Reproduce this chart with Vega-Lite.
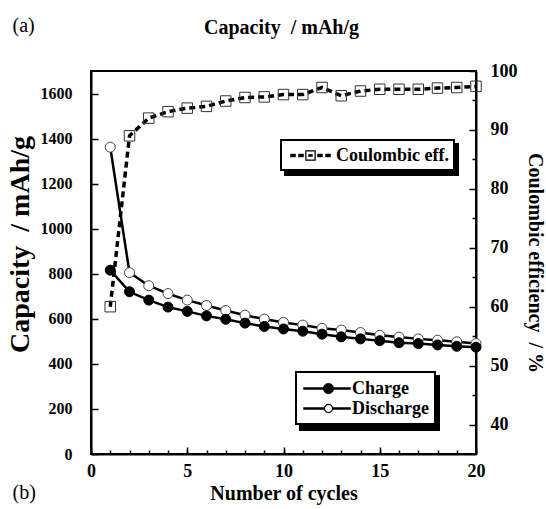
{
  "$schema": "https://vega.github.io/schema/vega-lite/v6.json",
  "width": 385,
  "height": 383,
  "autosize": {"type": "none"},
  "padding": {"left": 91, "top": 71, "right": 70, "bottom": 55},
  "background": "white",
  "config": {
    "font": "Liberation Serif",
    "view": {"stroke": "black", "strokeWidth": 2},
    "axis": {
      "grid": false,
      "domainColor": "black",
      "domainWidth": 2,
      "tickColor": "black",
      "tickWidth": 1.5,
      "labelColor": "black",
      "titleColor": "black",
      "labelFont": "Liberation Serif",
      "titleFont": "Liberation Serif",
      "labelFontWeight": "bold",
      "titleFontWeight": "bold",
      "labelFlush": false,
      "labelOverlap": false
    },
    "legend": {
      "labelFont": "Liberation Serif",
      "labelFontWeight": "bold",
      "labelFontSize": 18,
      "labelColor": "black",
      "labelLimit": 300,
      "symbolSize": 400,
      "rowPadding": -4,
      "strokeWidth": 2,
      "orient": "none"
    }
  },
  "title": {
    "text": "Capacity\u00a0 / mAh/g",
    "font": "Liberation Serif",
    "fontSize": 20,
    "fontWeight": "bold",
    "color": "black",
    "anchor": "middle",
    "frame": "group",
    "offset": 0,
    "dx": -2,
    "dy": 23
  },
  "datasets": {
    "capacity": [
      {"cycle": 1, "series": "Discharge", "capacity": 1362},
      {"cycle": 2, "series": "Discharge", "capacity": 805},
      {"cycle": 3, "series": "Discharge", "capacity": 747},
      {"cycle": 4, "series": "Discharge", "capacity": 712},
      {"cycle": 5, "series": "Discharge", "capacity": 683},
      {"cycle": 6, "series": "Discharge", "capacity": 659},
      {"cycle": 7, "series": "Discharge", "capacity": 637},
      {"cycle": 8, "series": "Discharge", "capacity": 616},
      {"cycle": 9, "series": "Discharge", "capacity": 599},
      {"cycle": 10, "series": "Discharge", "capacity": 584},
      {"cycle": 11, "series": "Discharge", "capacity": 572},
      {"cycle": 12, "series": "Discharge", "capacity": 558},
      {"cycle": 13, "series": "Discharge", "capacity": 550},
      {"cycle": 14, "series": "Discharge", "capacity": 539},
      {"cycle": 15, "series": "Discharge", "capacity": 527},
      {"cycle": 16, "series": "Discharge", "capacity": 519},
      {"cycle": 17, "series": "Discharge", "capacity": 511},
      {"cycle": 18, "series": "Discharge", "capacity": 505},
      {"cycle": 19, "series": "Discharge", "capacity": 498},
      {"cycle": 20, "series": "Discharge", "capacity": 490},
      {"cycle": 1, "series": "Charge", "capacity": 816},
      {"cycle": 2, "series": "Charge", "capacity": 720},
      {"cycle": 3, "series": "Charge", "capacity": 683},
      {"cycle": 4, "series": "Charge", "capacity": 652},
      {"cycle": 5, "series": "Charge", "capacity": 633},
      {"cycle": 6, "series": "Charge", "capacity": 613},
      {"cycle": 7, "series": "Charge", "capacity": 598},
      {"cycle": 8, "series": "Charge", "capacity": 581},
      {"cycle": 9, "series": "Charge", "capacity": 566},
      {"cycle": 10, "series": "Charge", "capacity": 555},
      {"cycle": 11, "series": "Charge", "capacity": 545},
      {"cycle": 12, "series": "Charge", "capacity": 532},
      {"cycle": 13, "series": "Charge", "capacity": 520},
      {"cycle": 14, "series": "Charge", "capacity": 511},
      {"cycle": 15, "series": "Charge", "capacity": 503},
      {"cycle": 16, "series": "Charge", "capacity": 494},
      {"cycle": 17, "series": "Charge", "capacity": 490},
      {"cycle": 18, "series": "Charge", "capacity": 484},
      {"cycle": 19, "series": "Charge", "capacity": 478},
      {"cycle": 20, "series": "Charge", "capacity": 474}
    ],
    "efficiency": [
      {"cycle": 1, "measure": "Coulombic eff.", "ce": 60.0},
      {"cycle": 2, "measure": "Coulombic eff.", "ce": 89.0},
      {"cycle": 3, "measure": "Coulombic eff.", "ce": 92.0},
      {"cycle": 4, "measure": "Coulombic eff.", "ce": 93.1},
      {"cycle": 5, "measure": "Coulombic eff.", "ce": 93.7},
      {"cycle": 6, "measure": "Coulombic eff.", "ce": 94.0},
      {"cycle": 7, "measure": "Coulombic eff.", "ce": 94.9},
      {"cycle": 8, "measure": "Coulombic eff.", "ce": 95.5},
      {"cycle": 9, "measure": "Coulombic eff.", "ce": 95.6},
      {"cycle": 10, "measure": "Coulombic eff.", "ce": 96.0},
      {"cycle": 11, "measure": "Coulombic eff.", "ce": 96.0},
      {"cycle": 12, "measure": "Coulombic eff.", "ce": 97.2},
      {"cycle": 13, "measure": "Coulombic eff.", "ce": 95.8},
      {"cycle": 14, "measure": "Coulombic eff.", "ce": 96.6},
      {"cycle": 15, "measure": "Coulombic eff.", "ce": 96.9},
      {"cycle": 16, "measure": "Coulombic eff.", "ce": 96.9},
      {"cycle": 17, "measure": "Coulombic eff.", "ce": 96.9},
      {"cycle": 18, "measure": "Coulombic eff.", "ce": 97.1},
      {"cycle": 19, "measure": "Coulombic eff.", "ce": 97.2},
      {"cycle": 20, "measure": "Coulombic eff.", "ce": 97.4}
    ]
  },
  "layer": [
    {
      "data": {"name": "capacity"},
      "mark": {"type": "line", "strokeWidth": 2.5, "color": "black"},
      "encoding": {
        "x": {
          "field": "cycle", "type": "quantitative",
          "scale": {"domain": [0, 20], "nice": false},
          "axis": {
            "orient": "bottom",
            "values": [0, 5, 10, 15, 20],
            "format": "d",
            "tickSize": -7,
            "labelFontSize": 18,
            "labelPadding": 15,
            "title": "Number of cycles",
            "titleFontSize": 20,
            "titleX": 192.5,
            "titleY": 45,
            "titleAngle": 0,
            "titleAlign": "center",
            "titleBaseline": "alphabetic"
          }
        },
        "y": {
          "field": "capacity", "type": "quantitative",
          "scale": {"domain": [0, 1700], "nice": false, "zero": false},
          "axis": {
            "orient": "left",
            "values": [0, 200, 400, 600, 800, 1000, 1200, 1400, 1600],
            "format": "d",
            "tickSize": -7,
            "labelFontSize": 16,
            "labelPadding": 26,
            "title": "Capacity\u00a0 / mAh/g",
            "titleFontSize": 28,
            "titleX": -71,
            "titleY": 173,
            "titleAngle": -90,
            "titleAlign": "center",
            "titleBaseline": "middle"
          }
        },
        "detail": {"field": "series", "type": "nominal"}
      }
    },
    {
      "data": {"name": "capacity"},
      "mark": {"type": "point", "shape": "circle", "size": 100, "strokeWidth": 1, "filled": true, "opacity": 1},
      "encoding": {
        "x": {
          "field": "cycle", "type": "quantitative",
          "scale": {"domain": [0, 20], "nice": false},
          "axis": {
            "orient": "bottom",
            "domain": false,
            "ticks": false,
            "labels": false,
            "title": "(b)",
            "titleFontSize": 20,
            "titleFontWeight": "normal",
            "titleX": -79,
            "titleY": 44,
            "titleAngle": 0,
            "titleAlign": "left",
            "titleBaseline": "alphabetic"
          }
        },
        "y": {
          "field": "capacity", "type": "quantitative",
          "scale": {"domain": [0, 1700], "nice": false, "zero": false},
          "axis": null
        },
        "fill": {
          "field": "series", "type": "nominal",
          "scale": {"domain": ["Charge", "Discharge"], "range": ["black", "white"]},
          "legend": null
        },
        "stroke": {
          "field": "series", "type": "nominal",
          "scale": {"domain": ["Charge", "Discharge"], "range": ["black", "#444444"]},
          "legend": null
        }
      }
    },
    {
      "data": {"name": "efficiency"},
      "mark": {"type": "line", "strokeWidth": 3.5, "strokeDash": [6, 4], "color": "black"},
      "encoding": {
        "x": {
          "field": "cycle", "type": "quantitative",
          "scale": {"domain": [0, 20], "nice": false},
          "axis": {
            "orient": "top",
            "domain": false,
            "ticks": false,
            "labels": false,
            "title": "(a)",
            "titleFontSize": 20,
            "titleFontWeight": "normal",
            "titleX": -79,
            "titleY": -40,
            "titleAngle": 0,
            "titleAlign": "left",
            "titleBaseline": "alphabetic"
          }
        },
        "y": {
          "field": "ce", "type": "quantitative",
          "scale": {"domain": [35, 100], "nice": false, "zero": false},
          "axis": {
            "orient": "right",
            "values": [40, 50, 60, 70, 80, 90, 100],
            "tickSize": -7,
            "labelFontSize": 18,
            "labelPadding": 21,
            "title": "Coulombic efficiency\u00a0 / %",
            "titleFontSize": 20,
            "titleX": 58,
            "titleY": 191.5,
            "titleAngle": 90,
            "titleAlign": "center",
            "titleBaseline": "middle"
          }
        }
      }
    },
    {
      "data": {"name": "efficiency"},
      "mark": {"type": "point", "shape": "square", "size": 110, "strokeWidth": 1, "filled": false, "opacity": 1, "stroke": "#333333"},
      "encoding": {
        "x": {
          "field": "cycle", "type": "quantitative",
          "scale": {"domain": [0, 20], "nice": false},
          "axis": {
            "orient": "bottom",
            "values": [0, 1, 2, 3, 4, 5, 6, 7, 8, 9, 10, 11, 12, 13, 14, 15, 16, 17, 18, 19, 20],
            "domain": false,
            "labels": false,
            "tickSize": -4,
            "title": null
          }
        },
        "y": {
          "field": "ce", "type": "quantitative",
          "scale": {"domain": [35, 100], "nice": false, "zero": false},
          "axis": {
            "orient": "right",
            "values": [45, 55, 65, 75, 85, 95],
            "domain": false,
            "labels": false,
            "tickSize": -4,
            "title": null
          }
        }
      }
    },
    {
      "description": "Legend carrier for the capacity series (points drawn fully transparent).",
      "data": {"name": "capacity"},
      "mark": {"type": "point", "filled": true, "color": "black", "opacity": 0, "strokeWidth": 0, "size": 400},
      "encoding": {
        "x": {"field": "cycle", "type": "quantitative", "scale": {"domain": [0, 20], "nice": false}, "axis": null},
        "y": {"field": "capacity", "type": "quantitative", "scale": {"domain": [0, 1700], "nice": false, "zero": false}, "axis": null},
        "shape": {
          "field": "series", "type": "nominal",
          "scale": {
            "domain": ["Charge", "Discharge"],
            "range": [
              "M-1,-0.1H0.99V0.1H-1ZM2.01,-0.1H3.7V0.1H2.01ZM0.97,0A0.53,0.53 0 1,1 2.03,0A0.53,0.53 0 1,1 0.97,0Z",
              "M-1,-0.1H1.07V0.1H-1ZM1.93,-0.1H3.7V0.1H1.93ZM1.06,0A0.44,0.44 0 1,1 1.94,0A0.44,0.44 0 1,1 1.06,0ZM1.13,0A0.37,0.37 0 1,0 1.87,0A0.37,0.37 0 1,0 1.13,0Z"
            ]
          },
          "legend": {
            "title": null,
            "legendX": 205,
            "legendY": 301,
            "padding": 6,
            "symbolOffset": 1,
            "labelOffset": 28,
            "fillColor": "#ffffff",
            "strokeColor": "#000000",
            "symbolOpacity": 1,
            "symbolFillColor": "black",
            "symbolStrokeColor": "black",
            "symbolStrokeWidth": 0.5,
            "zindex": 3
          }
        },
        "color": {
          "field": "series", "type": "nominal",
          "scale": {"range": ["black", "black"]},
          "legend": {
            "title": null,
            "legendX": 209,
            "legendY": 305,
            "padding": 6,
            "symbolOffset": 1,
            "labelOffset": 28,
            "fillColor": "black",
            "strokeColor": "black",
            "symbolOpacity": 0,
            "symbolStrokeWidth": 0.5,
            "labelOpacity": 0
          }
        }
      }
    },
    {
      "description": "Legend carrier for the Coulombic efficiency series (points drawn fully transparent).",
      "data": {"name": "efficiency"},
      "mark": {"type": "point", "filled": true, "color": "black", "opacity": 0, "strokeWidth": 0, "size": 400},
      "encoding": {
        "x": {"field": "cycle", "type": "quantitative", "scale": {"domain": [0, 20], "nice": false}, "axis": null},
        "y": {"field": "ce", "type": "quantitative", "scale": {"domain": [35, 100], "nice": false, "zero": false}, "axis": null},
        "shape": {
          "field": "measure", "type": "nominal",
          "scale": {
            "domain": ["Coulombic eff."],
            "range": ["M-1,-0.15H-0.5V0.15H-1ZM-0.2,-0.15H0.3V0.15H-0.2ZM0.5,-0.5H1.5V0.5H0.5ZM0.57,-0.43V0.43H1.43V-0.43ZM0.8,-0.1H1.2V0.1H0.8ZM1.7,-0.15H2.2V0.15H1.7ZM2.5,-0.15H3V0.15H2.5Z"]
          },
          "legend": {
            "title": null,
            "legendX": 190,
            "legendY": 69,
            "padding": 5,
            "symbolOffset": 4,
            "labelOffset": 25,
            "fillColor": "#ffffff",
            "strokeColor": "#000000",
            "symbolOpacity": 1,
            "symbolFillColor": "black",
            "symbolStrokeColor": "black",
            "symbolStrokeWidth": 0.5,
            "zindex": 3
          }
        },
        "color": {
          "field": "measure", "type": "nominal",
          "scale": {"range": ["black"]},
          "legend": {
            "title": null,
            "legendX": 194,
            "legendY": 73,
            "padding": 5,
            "symbolOffset": 4,
            "labelOffset": 25,
            "fillColor": "black",
            "strokeColor": "black",
            "symbolOpacity": 0,
            "symbolStrokeWidth": 0.5,
            "labelOpacity": 0
          }
        }
      }
    }
  ],
  "resolve": {
    "scale": {"y": "independent", "fill": "independent", "stroke": "independent", "color": "independent", "shape": "independent"},
    "axis": {"x": "independent", "y": "independent"}
  }
}
